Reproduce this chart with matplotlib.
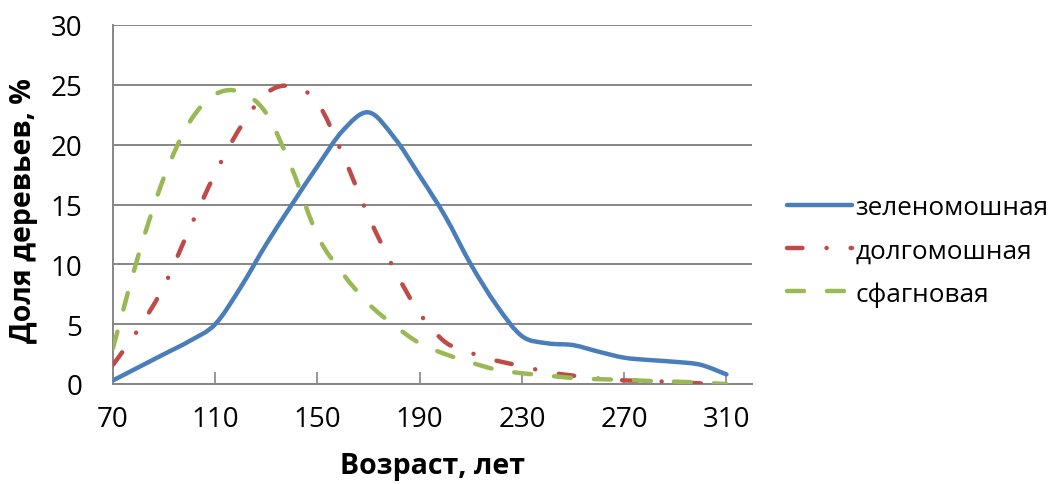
import numpy as np
import matplotlib
matplotlib.use("Agg")
import matplotlib.pyplot as plt
from matplotlib.path import Path
from matplotlib.patches import PathPatch
from matplotlib.lines import Line2D

plt.rcParams['font.family'] = ['Open Sans', 'DejaVu Sans']

# ---- data ----
age = [70, 80, 90, 100, 110, 120, 130, 140, 150, 160, 170, 180, 190,
       200, 210, 220, 230, 240, 250, 260, 270, 280, 290, 300, 310]
zelenomoshnaya = [0.3, 1.4, 2.5, 3.6, 5.0, 8.1, 11.7, 15.0, 18.2, 21.2, 22.7, 20.6, 17.4,
                  14.0, 10.0, 6.6, 4.0, 3.4, 3.25, 2.7, 2.2, 2.0, 1.85, 1.6, 0.8]
age_d = age[:-1]
dolgomoshnaya = [1.6, 4.6, 8.2, 13.0, 17.6, 21.5, 24.3, 24.9, 23.5, 19.1, 14.0, 9.6, 5.9,
                 3.5, 2.6, 1.95, 1.5, 1.0, 0.7, 0.45, 0.3, 0.25, 0.15, 0.05]
sfagnovaya = [3.0, 10.8, 17.3, 21.9, 24.2, 24.4, 22.6, 18.0, 12.4, 9.2, 6.7, 4.9, 3.4,
              2.5, 1.8, 1.2, 0.9, 0.7, 0.5, 0.4, 0.35, 0.25, 0.2, 0.1, 0.0]
labels = ['зеленомошная', 'долгомошная', 'сфагновая']
xticks = [70, 110, 150, 190, 230, 270, 310]
yticks = [0, 5, 10, 15, 20, 25, 30]

colors = ['#4A7EBB', '#BE4B48', '#98B954']

plt.rcParams['lines.scale_dashes'] = False
px = 0.72
styles = [
    dict(linestyle='-'),
    dict(linestyle=(0, (15.5 * px, 24 * px, 0.1, 24 * px))),
    dict(linestyle=(0, (17 * px, 23 * px))),
]

fig = plt.figure(figsize=(10.54, 4.85), dpi=100)
ax = fig.add_axes([113 / 1054, 1 - 385 / 485, (752 - 113) / 1054, (385 - 26) / 485])


def smooth_path(x, y):
    x = np.asarray(x, float)
    y = np.asarray(y, float)
    pts = np.column_stack([x, y])
    n = len(pts)
    verts = [pts[0]]
    codes = [Path.MOVETO]
    for i in range(n - 1):
        p0 = pts[i - 1] if i > 0 else pts[i]
        p1 = pts[i]
        p2 = pts[i + 1]
        p3 = pts[i + 2] if i + 2 < n else pts[i + 1]
        c1 = p1 + (p2 - p0) / 6.0
        c2 = p2 - (p3 - p1) / 6.0
        verts += [c1, c2, p2]
        codes += [Path.CURVE4] * 3
    return Path(verts, codes)


series = [(age, zelenomoshnaya), (age_d, dolgomoshnaya), (age, sfagnovaya)]
lw = 3.2
for (xs, ys), c, st in zip(series, colors, styles):
    patch = PathPatch(smooth_path(xs, ys), facecolor='none', edgecolor=c,
                      linewidth=lw, capstyle='round', joinstyle='round', zorder=3, **st)
    ax.add_patch(patch)

ax.set_xlim(70, 320)
ax.set_ylim(0, 30)
ax.set_xticks(xticks)
ax.set_yticks(yticks)
ax.tick_params(axis='x', direction='in', length=9, width=1.2, color='#868686',
               labelsize=20, pad=15)
ax.tick_params(axis='y', length=0, labelsize=20, pad=22)
ax.grid(axis='y', color='#868686', linewidth=1.4)
ax.set_axisbelow(True)
for s in ['top', 'right']:
    ax.spines[s].set_visible(False)
for s in ['left', 'bottom']:
    ax.spines[s].set_color('#868686')
    ax.spines[s].set_linewidth(1.4)

fig.text(433 / 1054, 1 - 467 / 485, 'Возраст, лет', ha='center', va='center',
         fontsize=20.5, fontweight='bold')
fig.text(24 / 1054, 1 - 211 / 485, 'Доля деревьев, %', ha='center', va='center',
         rotation=90, fontsize=20.5, fontweight='bold')

handles = [Line2D([0], [0], color=c, linewidth=lw, solid_capstyle='round',
                  dash_capstyle='round', **st) for c, st in zip(colors, styles)]
leg = fig.legend(handles, labels, loc='center left', bbox_to_anchor=(763 / 1054, 1 - 252 / 485),
                 frameon=False, fontsize=18.8, handlelength=2.52, handletextpad=0.12,
                 labelspacing=0.68)

fig.savefig('out.png', dpi=100)
